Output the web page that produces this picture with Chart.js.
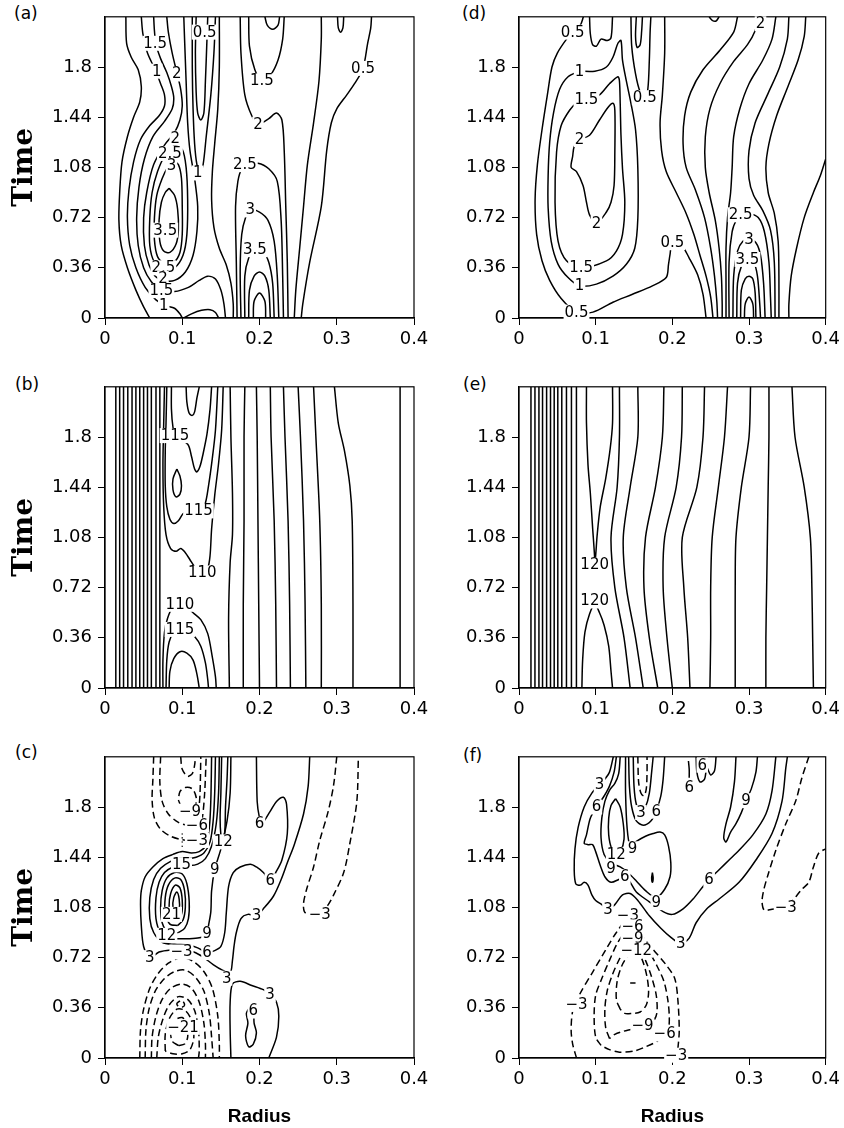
<!DOCTYPE html>
<html>
<head>
<meta charset="utf-8">
<script src="https://cdn.jsdelivr.net/npm/chart.js@4.4.1/dist/chart.umd.min.js"></script>
<style>
  body { margin: 0; background: #fff; width: 844px; height: 1128px; position: relative; overflow: hidden; }
  canvas { position: absolute; }
  .tag { position: absolute; font: 17px/17px 'DejaVu Sans', sans-serif; color: #000; }
</style>
</head>
<body>
<div class="tag" style="left:14px;top:5px">(a)</div>
<div class="tag" style="left:15px;top:376px">(b)</div>
<div class="tag" style="left:15px;top:744px">(c)</div>
<div class="tag" style="left:462px;top:5px">(d)</div>
<div class="tag" style="left:463px;top:376px">(e)</div>
<div class="tag" style="left:463px;top:747px">(f)</div>
<canvas id="pa" width="434" height="360" style="left:0;top:0"></canvas>
<canvas id="pb" width="434" height="360" style="left:0;top:370px"></canvas>
<canvas id="pc" width="434" height="388" style="left:0;top:740px"></canvas>
<canvas id="pd" width="424" height="360" style="left:420px;top:0"></canvas>
<canvas id="pe" width="424" height="360" style="left:420px;top:370px"></canvas>
<canvas id="pf" width="424" height="388" style="left:420px;top:740px"></canvas>
<script>
// axes
const xTicks = [0, 0.1, 0.2, 0.3, 0.4];
const yTicks = [0, 0.36, 0.72, 1.08, 1.44, 1.8];
const yTop = 2.16;

// (a) contour lines, [radius, time]
const aLines = [
  [[0.027,2.16],[0.028,1.97],[0.034,1.87],[0.043,1.78],[0.047,1.66],[0.045,1.55],[0.037,1.44],[0.029,1.3],[0.022,1.12],[0.019,0.9],[0.018,0.7],[0.021,0.52],[0.029,0.36],[0.04,0.2],[0.05,0.08],[0.058,0]],
  [[0.047,2.16],[0.049,2.04],[0.055,1.9],[0.065,1.78],[0.072,1.68],[0.077,1.6],[0.077,1.52],[0.07,1.45],[0.058,1.38],[0.046,1.28],[0.037,1.12],[0.031,0.92],[0.029,0.72],[0.032,0.52],[0.04,0.36],[0.052,0.22],[0.066,0.13],[0.078,0.09],[0.09,0.07],[0.097,0.03],[0.1,0]],
  [[0.063,2.16],[0.064,2.06],[0.066,1.96],[0.072,1.86],[0.08,1.76],[0.086,1.66],[0.089,1.58],[0.087,1.5],[0.077,1.41],[0.062,1.3],[0.051,1.14],[0.044,0.94],[0.041,0.72],[0.043,0.52],[0.05,0.36],[0.06,0.26],[0.073,0.2],[0.09,0.19],[0.108,0.22],[0.122,0.27],[0.133,0.3],[0.143,0.28],[0.15,0.2],[0.154,0.1],[0.156,0]],
  [[0.08,2.16],[0.082,2.05],[0.087,1.9],[0.093,1.76],[0.098,1.64],[0.1,1.52],[0.097,1.42],[0.09,1.33],[0.077,1.24],[0.063,1.1],[0.054,0.9],[0.05,0.72],[0.051,0.52],[0.057,0.38],[0.065,0.3],[0.075,0.27],[0.09,0.27],[0.104,0.33],[0.114,0.45],[0.119,0.62],[0.12,0.8],[0.116,1.0],[0.11,1.2],[0.107,1.4],[0.105,1.7],[0.103,2.0],[0.102,2.16]],
  [[0.09,1.24],[0.1,1.21],[0.105,1.08],[0.107,0.85],[0.106,0.6],[0.101,0.45],[0.09,0.36],[0.076,0.35],[0.064,0.4],[0.058,0.52],[0.058,0.72],[0.061,0.9],[0.068,1.05],[0.078,1.17],[0.09,1.24]],
  [[0.088,1.13],[0.095,1.1],[0.099,1.0],[0.1,0.8],[0.1,0.6],[0.097,0.47],[0.089,0.4],[0.077,0.39],[0.068,0.44],[0.064,0.56],[0.064,0.72],[0.067,0.88],[0.074,1.0],[0.081,1.08],[0.088,1.13]],
  [[0.083,0.93],[0.09,0.88],[0.094,0.78],[0.095,0.63],[0.092,0.53],[0.084,0.47],[0.076,0.48],[0.071,0.55],[0.07,0.7],[0.073,0.83],[0.078,0.9],[0.083,0.93]],
  [[0.102,0],[0.112,0.03],[0.125,0.055],[0.136,0.06],[0.143,0.04],[0.147,0]],
  [[0.118,2.16],[0.117,1.9],[0.118,1.62],[0.12,1.47],[0.124,1.42],[0.128,1.47],[0.13,1.7],[0.132,2.0],[0.133,2.16]],
  [[0.113,2.16],[0.113,1.8],[0.114,1.5],[0.116,1.25],[0.119,1.1],[0.123,1.04],[0.127,1.1],[0.131,1.3],[0.137,1.6],[0.141,1.9],[0.143,2.16]],
  [[0.148,2.16],[0.148,1.8],[0.146,1.5],[0.142,1.25],[0.139,1.05],[0.138,0.85],[0.141,0.65],[0.148,0.5],[0.157,0.38],[0.163,0.25],[0.166,0.1],[0.166,0]],
  [[0.192,0],[0.193,0.12],[0.2,0.18],[0.207,0.12],[0.208,0]],
  [[0.186,0],[0.187,0.2],[0.193,0.3],[0.2,0.33],[0.207,0.3],[0.212,0.2],[0.214,0]],
  [[0.181,0],[0.181,0.3],[0.186,0.43],[0.194,0.49],[0.205,0.47],[0.212,0.4],[0.217,0.25],[0.219,0]],
  [[0.176,0],[0.175,0.35],[0.177,0.6],[0.182,0.72],[0.188,0.775],[0.2,0.76],[0.211,0.7],[0.219,0.55],[0.223,0.3],[0.225,0]],
  [[0.171,0],[0.17,0.4],[0.169,0.8],[0.172,0.98],[0.177,1.07],[0.184,1.1],[0.198,1.11],[0.212,1.07],[0.223,0.98],[0.228,0.7],[0.23,0.3],[0.231,0]],
  [[0.175,2.16],[0.176,1.9],[0.181,1.6],[0.19,1.45],[0.198,1.39],[0.212,1.43],[0.222,1.47],[0.229,1.42],[0.232,1.2],[0.234,0.8],[0.236,0.4],[0.237,0]],
  [[0.186,2.16],[0.187,1.95],[0.194,1.78],[0.203,1.7],[0.214,1.74],[0.224,1.85],[0.23,2.0],[0.232,2.16]],
  [[0.207,2.16],[0.21,2.1],[0.217,2.07],[0.224,2.1],[0.226,2.16]],
  [[0.301,2.16],[0.302,2.08],[0.305,2.05],[0.308,2.08],[0.309,2.16]],
  [[0.28,2.16],[0.28,2.0],[0.277,1.7],[0.27,1.4],[0.262,1.1],[0.257,0.8],[0.252,0.5],[0.247,0.2],[0.245,0]],
  [[0.345,2.16],[0.344,2.08],[0.34,1.97],[0.334,1.79],[0.323,1.68],[0.313,1.6],[0.3,1.5],[0.293,1.4],[0.287,1.2],[0.28,0.8],[0.265,0.4],[0.256,0.1],[0.254,0]]
];
const aLabels = [
  ['1.5',0.065,1.97],['1',0.067,1.77],['2',0.093,1.75],['0.5',0.129,2.05],['1.5',0.203,1.70],['0.5',0.334,1.79],
  ['2',0.198,1.39],['2',0.091,1.29],['2.5',0.084,1.18],['3',0.086,1.09],['1',0.12,1.04],['2.5',0.181,1.10],
  ['3',0.188,0.775],['3.5',0.078,0.63],['3.5',0.194,0.49],['2.5',0.0755,0.36],['2',0.075,0.286],['1.5',0.073,0.196],['1',0.076,0.09]
];

// (b)
const bVerticals = [0.014,0.019,0.024,0.0295,0.035,0.04,0.045,0.05,0.055,0.06,0.066,0.071];
const bLines = [
  [[0.077,2.16],[0.076,1.9],[0.075,1.6],[0.076,1.3],[0.079,1.1],[0.085,1.0],[0.092,0.98],[0.098,1.0],[0.104,0.97],[0.11,0.92],[0.116,0.87],[0.126,0.825],[0.133,0.86],[0.136,0.95],[0.138,1.14],[0.142,1.38],[0.147,1.61],[0.151,1.85],[0.153,2.16]],
  [[0.08,2.16],[0.079,1.9],[0.078,1.7],[0.078,1.45],[0.08,1.3],[0.084,1.21],[0.089,1.18],[0.095,1.2],[0.101,1.25],[0.108,1.27],[0.121,1.27],[0.129,1.31],[0.134,1.45],[0.139,1.65],[0.143,1.85],[0.146,2.16]],
  [[0.086,2.16],[0.086,2.0],[0.088,1.87],[0.091,1.81],[0.1,1.78],[0.108,1.74],[0.112,1.66],[0.116,1.57],[0.119,1.55],[0.123,1.59],[0.127,1.68],[0.132,1.82],[0.136,2.0],[0.138,2.16]],
  [[0.093,1.57],[0.097,1.52],[0.099,1.45],[0.097,1.39],[0.092,1.37],[0.088,1.42],[0.088,1.5],[0.093,1.57]],
  [[0.105,2.16],[0.106,2.05],[0.109,1.97],[0.113,1.955],[0.116,1.98],[0.119,2.08],[0.122,2.16]],
  [[0.075,0],[0.075,0.2],[0.077,0.4],[0.081,0.5],[0.088,0.58],[0.097,0.6],[0.106,0.58],[0.114,0.54],[0.124,0.49],[0.133,0.39],[0.139,0.22],[0.143,0.08],[0.144,0]],
  [[0.079,0],[0.08,0.2],[0.083,0.33],[0.089,0.4],[0.097,0.42],[0.106,0.41],[0.116,0.37],[0.124,0.3],[0.13,0.18],[0.133,0.06],[0.134,0]],
  [[0.083,0],[0.084,0.12],[0.089,0.21],[0.097,0.26],[0.106,0.25],[0.114,0.2],[0.119,0.1],[0.122,0]],
  [[0.161,0],[0.16,0.5],[0.162,0.9],[0.165,1.1],[0.165,1.4],[0.163,1.8],[0.162,2.16]],
  [[0.179,0],[0.179,0.6],[0.18,1.2],[0.18,1.8],[0.181,2.16]],
  [[0.2,0],[0.199,0.6],[0.198,1.2],[0.197,1.8],[0.196,2.16]],
  [[0.222,0],[0.221,0.6],[0.219,1.2],[0.215,1.8],[0.214,2.16]],
  [[0.24,0],[0.239,0.6],[0.237,1.2],[0.233,1.8],[0.231,2.16]],
  [[0.26,0],[0.259,0.6],[0.257,1.2],[0.253,1.8],[0.25,2.16]],
  [[0.28,0],[0.28,0.6],[0.278,1.2],[0.273,1.8],[0.27,2.16]],
  [[0.321,0],[0.321,0.6],[0.32,1.2],[0.317,1.45],[0.31,1.7],[0.302,1.9],[0.297,2.16]],
  [[0.382,0],[0.382,2.16]]
];
const bLabels = [['115',0.0906,1.81],['115',0.121,1.27],['110',0.126,0.825],['110',0.097,0.6],['115',0.097,0.42]];

// (c)
const cSolid = [
  [[0.265,2.16],[0.263,1.95],[0.257,1.75],[0.245,1.53],[0.236,1.4],[0.228,1.28],[0.218,1.16],[0.205,1.07],[0.196,1.02],[0.185,1.03],[0.176,1.0],[0.17,0.9],[0.167,0.8],[0.165,0.7],[0.162,0.61],[0.152,0.63],[0.14,0.67],[0.128,0.72],[0.115,0.76],[0.1,0.775],[0.085,0.775],[0.07,0.76],[0.058,0.72],[0.05,0.8],[0.047,0.95],[0.046,1.1],[0.047,1.2],[0.052,1.3],[0.062,1.37],[0.075,1.43],[0.088,1.46],[0.1,1.48],[0.112,1.47],[0.122,1.48],[0.13,1.52],[0.135,1.65],[0.137,1.85],[0.138,2.16]],
  [[0.196,2.16],[0.197,1.84],[0.2,1.72],[0.203,1.68],[0.214,1.77],[0.222,1.84],[0.231,1.87],[0.235,1.82],[0.236,1.61],[0.229,1.42],[0.221,1.33],[0.214,1.27],[0.205,1.33],[0.196,1.37],[0.188,1.39],[0.175,1.37],[0.166,1.33],[0.16,1.23],[0.157,1.04],[0.155,0.9],[0.15,0.8],[0.142,0.77],[0.132,0.756],[0.12,0.79],[0.108,0.81],[0.09,0.815],[0.074,0.83],[0.063,0.9],[0.058,1.0],[0.058,1.15],[0.063,1.28],[0.072,1.36],[0.085,1.41],[0.097,1.43],[0.108,1.43],[0.118,1.44],[0.128,1.47],[0.136,1.55],[0.14,1.7],[0.142,1.9],[0.143,2.16]],
  [[0.163,2.16],[0.162,1.9],[0.158,1.7],[0.15,1.5],[0.142,1.35],[0.138,1.2],[0.137,1.05],[0.134,0.95],[0.132,0.89],[0.12,0.86],[0.1,0.855],[0.085,0.86],[0.072,0.9],[0.066,1.0],[0.066,1.15],[0.07,1.26],[0.077,1.33],[0.088,1.37],[0.1,1.385],[0.11,1.38],[0.12,1.39],[0.13,1.43],[0.138,1.52],[0.144,1.68],[0.147,1.9],[0.148,2.16]],
  [[0.151,2.16],[0.15,1.9],[0.149,1.72],[0.15,1.6],[0.152,1.56],[0.155,1.62],[0.156,1.8],[0.158,2.0],[0.159,2.16]],
  [[0.095,0.9],[0.082,0.9],[0.074,0.97],[0.072,1.08],[0.074,1.2],[0.08,1.29],[0.09,1.33],[0.1,1.32],[0.106,1.25],[0.109,1.12],[0.108,1.0],[0.103,0.93],[0.095,0.9]],
  [[0.094,0.95],[0.084,0.96],[0.078,1.04],[0.078,1.15],[0.082,1.24],[0.09,1.29],[0.098,1.28],[0.103,1.2],[0.104,1.08],[0.101,0.99],[0.094,0.95]],
  [[0.093,0.99],[0.086,1.01],[0.083,1.09],[0.085,1.18],[0.091,1.24],[0.097,1.22],[0.1,1.13],[0.099,1.03],[0.093,0.99]],
  [[0.092,1.04],[0.088,1.08],[0.089,1.15],[0.093,1.19],[0.096,1.14],[0.096,1.07],[0.092,1.04]],
  [[0.163,0],[0.162,0.2],[0.162,0.4],[0.165,0.53],[0.175,0.55],[0.19,0.52],[0.205,0.49],[0.214,0.455],[0.222,0.4],[0.225,0.3],[0.222,0.15],[0.212,0]],
  [[0.187,0.36],[0.192,0.34],[0.193,0.25],[0.196,0.18],[0.192,0.1],[0.186,0.08],[0.182,0.16],[0.185,0.25],[0.183,0.32],[0.187,0.36]]
];
const cDashed = [
  [[0.063,2.16],[0.062,2.0],[0.061,1.85],[0.064,1.72],[0.072,1.64],[0.085,1.59],[0.1,1.565],[0.113,1.56],[0.121,1.6],[0.126,1.72],[0.129,1.9],[0.131,2.16]],
  [[0.072,2.16],[0.071,1.98],[0.074,1.84],[0.082,1.75],[0.095,1.69],[0.108,1.67],[0.117,1.69],[0.121,1.77],[0.123,1.9],[0.124,2.16]],
  [[0.095,1.85],[0.1,1.79],[0.11,1.77],[0.117,1.81],[0.118,1.87],[0.113,1.93],[0.104,1.94],[0.097,1.91],[0.095,1.85]],
  [[0.098,2.16],[0.1,2.07],[0.107,2.02],[0.113,2.04],[0.116,2.1],[0.117,2.16]],
  [[0.045,0],[0.046,0.2],[0.05,0.35],[0.058,0.5],[0.068,0.6],[0.082,0.68],[0.099,0.72],[0.115,0.69],[0.128,0.62],[0.139,0.5],[0.146,0.3],[0.148,0.1],[0.148,0]],
  [[0.052,0],[0.053,0.2],[0.057,0.35],[0.065,0.48],[0.077,0.57],[0.09,0.62],[0.104,0.63],[0.117,0.58],[0.128,0.48],[0.135,0.32],[0.138,0.15],[0.14,0]],
  [[0.06,0],[0.061,0.15],[0.066,0.3],[0.074,0.42],[0.085,0.5],[0.1,0.53],[0.112,0.5],[0.122,0.4],[0.128,0.25],[0.13,0.1],[0.13,0]],
  [[0.067,0],[0.069,0.15],[0.075,0.28],[0.083,0.38],[0.095,0.44],[0.107,0.42],[0.116,0.34],[0.121,0.2],[0.122,0.05],[0.121,0]],
  [[0.078,0.05],[0.078,0.17],[0.083,0.28],[0.093,0.35],[0.104,0.34],[0.112,0.27],[0.115,0.15],[0.11,0.06],[0.1,0.03],[0.088,0.03],[0.078,0.05]],
  [[0.095,0.09],[0.087,0.12],[0.085,0.2],[0.09,0.27],[0.1,0.29],[0.106,0.24],[0.107,0.15],[0.103,0.1],[0.095,0.09]],
  [[0.097,0.41],[0.093,0.39],[0.095,0.37],[0.1,0.365],[0.103,0.38],[0.101,0.405],[0.097,0.41]],
  [[0.3,2.16],[0.296,1.96],[0.289,1.77],[0.278,1.56],[0.27,1.37],[0.261,1.21],[0.257,1.11],[0.258,1.05],[0.263,1.03],[0.278,1.03],[0.289,1.1],[0.296,1.17],[0.309,1.33],[0.317,1.54],[0.326,1.84],[0.328,2.16]]
];
const cDotted = [[[0.1,1.61],[0.1,1.5]]];
const cLabels = [
  ['−9',0.11,1.77],['−6',0.119,1.67],['−3',0.119,1.56],['12',0.153,1.55],['6',0.2,1.68],['9',0.142,1.35],['15',0.099,1.385],
  ['6',0.214,1.27],['21',0.086,1.03],['3',0.196,1.02],['9',0.132,0.89],['12',0.08,0.88],['3',0.058,0.72],['−3',0.099,0.76],
  ['6',0.132,0.756],['3',0.1575,0.572],['3',0.2136,0.455],['6',0.192,0.337],['−21',0.101,0.22],['−3',0.278,1.03]
];

// (d)
const dLines = [
  [[0.084,2.16],[0.08,2.1],[0.07,2.05],[0.062,2.0],[0.05,1.9],[0.043,1.8],[0.037,1.6],[0.03,1.35],[0.024,1.1],[0.021,0.85],[0.023,0.6],[0.03,0.41],[0.04,0.27],[0.055,0.14],[0.075,0.042],[0.0965,0.042],[0.1225,0.113],[0.148,0.17],[0.174,0.23],[0.192,0.29],[0.195,0.385],[0.197,0.456],[0.2,0.54],[0.211,0.53],[0.222,0.43],[0.233,0.31],[0.24,0.17],[0.244,0]],
  [[0.092,2.16],[0.093,2.04],[0.096,1.96],[0.101,1.95],[0.107,2.0],[0.115,1.99],[0.12,2.01],[0.122,2.16]],
  [[0.079,1.77],[0.064,1.73],[0.053,1.64],[0.045,1.47],[0.04,1.26],[0.038,1.02],[0.038,0.79],[0.042,0.55],[0.051,0.385],[0.064,0.29],[0.079,0.23],[0.101,0.243],[0.1225,0.3],[0.14,0.385],[0.151,0.5],[0.155,0.715],[0.155,1.07],[0.152,1.35],[0.146,1.54],[0.14,1.7],[0.135,1.85],[0.133,1.99],[0.129,1.97],[0.1225,1.87],[0.114,1.8],[0.099,1.77],[0.079,1.77]],
  [[0.088,1.565],[0.105,1.6],[0.118,1.68],[0.129,1.73],[0.131,1.7],[0.132,1.54],[0.133,1.31],[0.135,1.07],[0.138,0.83],[0.135,0.6],[0.127,0.48],[0.114,0.41],[0.081,0.36],[0.062,0.41],[0.051,0.55],[0.047,0.83],[0.049,1.19],[0.055,1.38],[0.066,1.49],[0.075,1.54],[0.088,1.565]],
  [[0.079,1.28],[0.092,1.31],[0.105,1.42],[0.116,1.51],[0.1225,1.54],[0.125,1.49],[0.125,1.19],[0.124,0.95],[0.12,0.83],[0.114,0.76],[0.101,0.68],[0.092,0.74],[0.088,0.83],[0.0835,0.95],[0.075,1.05],[0.068,1.08],[0.07,1.16],[0.072,1.23],[0.079,1.28]],
  [[0.146,2.16],[0.147,1.95],[0.152,1.75],[0.158,1.62],[0.164,1.58],[0.168,1.64],[0.17,1.85],[0.171,2.05],[0.172,2.16]],
  [[0.153,2.16],[0.152,2.02],[0.154,1.94],[0.158,1.96],[0.16,2.06],[0.161,2.16]],
  [[0.19,2.16],[0.19,1.9],[0.187,1.6],[0.184,1.4],[0.186,1.2],[0.192,1.05],[0.205,0.9],[0.218,0.75],[0.228,0.6],[0.236,0.45],[0.244,0.3],[0.25,0.15],[0.253,0]],
  [[0.285,2.16],[0.28,2.05],[0.262,1.92],[0.24,1.78],[0.224,1.62],[0.216,1.45],[0.214,1.25],[0.218,1.08],[0.23,0.92],[0.242,0.72],[0.25,0.5],[0.255,0.3],[0.258,0.12],[0.259,0]],
  [[0.312,2.16],[0.308,2.06],[0.298,1.96],[0.28,1.84],[0.262,1.68],[0.249,1.5],[0.243,1.3],[0.243,1.08],[0.248,0.9],[0.256,0.7],[0.261,0.5],[0.264,0.3],[0.265,0.1],[0.265,0]],
  [[0.335,2.16],[0.33,2.0],[0.318,1.85],[0.3,1.68],[0.288,1.5],[0.28,1.3],[0.278,1.08],[0.276,0.9],[0.272,0.72],[0.27,0.5],[0.27,0.25],[0.27,0]],
  [[0.352,2.16],[0.35,2.0],[0.34,1.8],[0.324,1.6],[0.308,1.4],[0.3,1.2],[0.3,1.0],[0.306,0.88],[0.318,0.77],[0.328,0.63],[0.333,0.4],[0.334,0]],
  [[0.374,2.16],[0.372,2.02],[0.364,1.85],[0.35,1.65],[0.336,1.45],[0.326,1.25],[0.322,1.08],[0.325,0.9],[0.333,0.75],[0.338,0.55],[0.339,0.3],[0.339,0]],
  [[0.4,1.14],[0.393,1.02],[0.384,0.9],[0.372,0.72],[0.362,0.5],[0.355,0.3],[0.352,0.1],[0.352,0]],
  [[0.274,0],[0.274,0.4],[0.278,0.62],[0.284,0.71],[0.289,0.74],[0.3,0.75],[0.312,0.72],[0.32,0.62],[0.326,0.4],[0.328,0.15],[0.329,0]],
  [[0.279,0],[0.28,0.3],[0.285,0.48],[0.292,0.55],[0.3,0.565],[0.309,0.54],[0.315,0.45],[0.319,0.25],[0.321,0]],
  [[0.284,0],[0.285,0.25],[0.29,0.37],[0.298,0.42],[0.306,0.4],[0.311,0.3],[0.314,0.1],[0.315,0]],
  [[0.289,0],[0.29,0.2],[0.295,0.28],[0.3,0.3],[0.305,0.28],[0.308,0.18],[0.309,0]],
  [[0.294,0],[0.295,0.1],[0.3,0.15],[0.305,0.1],[0.306,0]],
  [[0.248,2.16],[0.252,2.135],[0.257,2.13],[0.261,2.16]]
];
const dLabels = [
  ['0.5',0.07,2.05],['1',0.079,1.77],['1.5',0.088,1.565],['2',0.079,1.28],['2',0.101,0.68],['0.5',0.164,1.58],['1.5',0.081,0.36],
  ['1',0.079,0.23],['0.5',0.075,0.042],['0.5',0.2,0.54],['2.5',0.289,0.74],['3',0.3,0.565],['3.5',0.298,0.42],['2',0.315,2.11]
];

// (e)
const eVerticals = [0.0156,0.0208,0.026,0.0307,0.036,0.0411,0.0459,0.0506,0.0558,0.0619,0.0684,0.0749];
const eLines = [
  [[0.088,2.16],[0.088,1.9],[0.09,1.6],[0.093,1.4],[0.096,1.15],[0.0985,0.95],[0.0987,0.883],[0.1,0.95],[0.102,1.1],[0.106,1.3],[0.113,1.5],[0.119,1.72],[0.122,1.9],[0.122,2.16]],
  [[0.082,0],[0.083,0.2],[0.086,0.4],[0.092,0.53],[0.0987,0.6],[0.105,0.54],[0.111,0.45],[0.117,0.3],[0.12,0.12],[0.122,0]],
  [[0.131,2.16],[0.131,1.8],[0.128,1.44],[0.12,1.08],[0.125,0.72],[0.137,0.36],[0.145,0]],
  [[0.155,2.16],[0.155,1.8],[0.145,1.44],[0.136,1.08],[0.14,0.72],[0.152,0.36],[0.162,0]],
  [[0.189,2.16],[0.187,1.8],[0.178,1.44],[0.165,1.08],[0.163,0.72],[0.17,0.36],[0.181,0]],
  [[0.213,2.16],[0.212,1.8],[0.205,1.44],[0.19,1.08],[0.188,0.72],[0.193,0.36],[0.2,0]],
  [[0.242,2.16],[0.24,1.8],[0.232,1.44],[0.213,1.08],[0.215,0.72],[0.22,0.36],[0.223,0]],
  [[0.272,2.16],[0.268,1.8],[0.26,1.44],[0.252,1.08],[0.25,0.72],[0.25,0.36],[0.249,0]],
  [[0.302,2.16],[0.3,1.8],[0.29,1.44],[0.283,1.08],[0.282,0.72],[0.282,0.36],[0.282,0]],
  [[0.326,2.16],[0.326,1.8],[0.325,1.44],[0.324,1.08],[0.323,0.72],[0.322,0.36],[0.322,0]],
  [[0.356,2.16],[0.36,1.8],[0.372,1.44],[0.38,1.08],[0.382,0.72],[0.383,0.36],[0.384,0]]
];
const eLabels = [['120',0.0987,0.883],['120',0.0987,0.624]];

// (f)
const fSolid = [
  [[0.123,2.16],[0.118,2.05],[0.112,2.0],[0.105,1.96],[0.095,1.9],[0.085,1.8],[0.077,1.65],[0.073,1.5],[0.072,1.35],[0.074,1.25],[0.08,1.24],[0.085,1.26],[0.09,1.24],[0.095,1.17],[0.1,1.13],[0.108,1.1],[0.116,1.067],[0.125,1.1],[0.135,1.17],[0.145,1.18],[0.155,1.13],[0.17,1.02],[0.185,0.93],[0.197,0.87],[0.211,0.82],[0.222,0.86],[0.231,0.97],[0.245,1.07],[0.261,1.14],[0.287,1.26],[0.309,1.42],[0.33,1.61],[0.343,1.84],[0.348,2.08],[0.35,2.16]],
  [[0.127,2.16],[0.124,2.05],[0.118,1.95],[0.11,1.87],[0.101,1.8],[0.093,1.72],[0.088,1.6],[0.085,1.54],[0.09,1.53],[0.096,1.53],[0.1,1.48],[0.106,1.38],[0.112,1.3],[0.12,1.26],[0.13,1.28],[0.138,1.3],[0.145,1.26],[0.153,1.19],[0.17,1.12],[0.188,1.05],[0.2,1.03],[0.214,1.07],[0.227,1.14],[0.24,1.23],[0.248,1.28],[0.261,1.35],[0.274,1.42],[0.287,1.49],[0.305,1.6],[0.322,1.75],[0.33,1.915],[0.335,2.16]],
  [[0.132,2.16],[0.13,2.04],[0.125,1.97],[0.118,1.92],[0.112,1.84],[0.108,1.72],[0.107,1.58],[0.111,1.46],[0.12,1.4],[0.132,1.37],[0.142,1.33],[0.153,1.27],[0.165,1.2],[0.179,1.15],[0.19,1.21],[0.197,1.3],[0.198,1.4],[0.195,1.52],[0.19,1.6],[0.184,1.62],[0.175,1.61],[0.165,1.59],[0.152,1.55],[0.145,1.52],[0.141,1.65],[0.139,1.9],[0.139,2.16]],
  [[0.126,1.86],[0.132,1.8],[0.136,1.68],[0.137,1.57],[0.133,1.49],[0.127,1.47],[0.121,1.5],[0.117,1.6],[0.117,1.72],[0.12,1.81],[0.126,1.86]],
  [[0.143,2.16],[0.144,1.95],[0.147,1.8],[0.153,1.7],[0.162,1.67],[0.172,1.7],[0.179,1.77],[0.185,1.88],[0.188,2.0],[0.19,2.16]],
  [[0.149,2.16],[0.15,1.95],[0.153,1.82],[0.159,1.76],[0.165,1.8],[0.17,1.9],[0.173,2.05],[0.175,2.16]],
  [[0.283,2.16],[0.281,1.98],[0.276,1.8],[0.27,1.68],[0.267,1.58],[0.27,1.55],[0.276,1.62],[0.283,1.68],[0.29,1.76],[0.296,1.845],[0.303,1.93],[0.309,2.05],[0.311,2.16]],
  [[0.221,2.13],[0.222,2.07],[0.222,2.01]],
  [[0.231,2.16],[0.232,2.05],[0.236,1.98],[0.242,2.0],[0.245,2.08],[0.25,2.03],[0.255,2.06],[0.257,2.16]],
  [[0.174,1.33],[0.175,1.29],[0.174,1.26],[0.173,1.29],[0.174,1.33]]
];
const fDashed = [
  [[0.075,0],[0.07,0.1],[0.068,0.2],[0.07,0.337],[0.075,0.384],[0.079,0.455],[0.0965,0.62],[0.114,0.784],[0.127,0.9],[0.142,1.0],[0.15,0.98],[0.157,0.9],[0.174,0.784],[0.192,0.667],[0.203,0.572],[0.207,0.43],[0.209,0.196],[0.207,0.054],[0.206,0]],
  [[0.107,0.09],[0.1,0.15],[0.098,0.3],[0.1,0.45],[0.108,0.57],[0.118,0.7],[0.128,0.82],[0.138,0.9],[0.148,0.94],[0.158,0.87],[0.17,0.76],[0.18,0.66],[0.189,0.55],[0.194,0.42],[0.196,0.3],[0.195,0.21],[0.19,0.172],[0.18,0.12],[0.165,0.08],[0.15,0.05],[0.131,0.042],[0.118,0.06],[0.107,0.09]],
  [[0.118,0.14],[0.113,0.22],[0.112,0.35],[0.115,0.48],[0.122,0.6],[0.131,0.71],[0.14,0.8],[0.148,0.855],[0.156,0.8],[0.165,0.7],[0.173,0.58],[0.179,0.45],[0.18,0.33],[0.176,0.27],[0.168,0.24],[0.161,0.23],[0.15,0.21],[0.135,0.19],[0.125,0.17],[0.118,0.14]],
  [[0.132,0.35],[0.127,0.42],[0.128,0.55],[0.134,0.66],[0.142,0.73],[0.153,0.773],[0.161,0.7],[0.167,0.58],[0.169,0.47],[0.166,0.38],[0.158,0.33],[0.147,0.32],[0.138,0.32],[0.132,0.35]],
  [[0.145,0.537],[0.152,0.537]],
  [[0.378,2.16],[0.369,2.01],[0.361,1.845],[0.348,1.68],[0.335,1.49],[0.324,1.3],[0.319,1.2],[0.317,1.12],[0.32,1.06],[0.33,1.067],[0.348,1.08],[0.369,1.21],[0.378,1.26],[0.384,1.37],[0.391,1.47],[0.4,1.5]],
  [[0.155,2.16],[0.156,1.98],[0.159,1.9],[0.163,1.88],[0.166,1.93],[0.167,2.05],[0.167,2.16]]
];
const fLabels = [
  ['3',0.105,1.96],['6',0.101,1.8],['3',0.159,1.76],['6',0.179,1.77],['6',0.222,1.94],['6',0.239,2.1],['9',0.296,1.845],
  ['12',0.127,1.46],['9',0.148,1.5],['9',0.12,1.36],['6',0.138,1.3],['6',0.248,1.28],['9',0.179,1.114],['3',0.116,1.067],
  ['−3',0.142,1.02],['−6',0.148,0.94],['−9',0.148,0.855],['−12',0.153,0.773],['3',0.211,0.82],['−3',0.348,1.08],
  ['−3',0.075,0.384],['−9',0.161,0.23],['−6',0.19,0.172],['−3',0.205,0.02]
];

function verticalLines(xs) {
  return xs.map(x => [[x, 0], [x, yTop]]);
}

function lineSet(line, dash) {
  return {
    data: line.map(p => ({ x: p[0], y: p[1] })),
    showLine: true,
    borderColor: '#000',
    borderWidth: 1.5,
    borderDash: dash,
    pointRadius: 0,
    pointHoverRadius: 0,
    tension: 0.3,
    fill: false
  };
}

function fmt(v) {
  return String(parseFloat(v.toFixed(2)));
}

// box round the plot and the inline contour labels
function panelPlugin(labels) {
  return {
    id: 'panelExtras',
    afterDatasetsDraw(chart) {
      const ctx = chart.ctx;
      const area = chart.chartArea;
      const xs = chart.scales.x, ys = chart.scales.y;
      ctx.save();
      ctx.strokeStyle = '#000';
      ctx.lineWidth = 1.2;
      ctx.strokeRect(area.left, area.top, area.right - area.left, area.bottom - area.top);
      ctx.font = '15px "DejaVu Sans"';
      ctx.textAlign = 'center';
      ctx.textBaseline = 'middle';
      labels.forEach(([text, x, y]) => {
        const px = xs.getPixelForValue(x);
        const py = ys.getPixelForValue(y);
        const w = ctx.measureText(text).width;
        ctx.fillStyle = '#fff';
        ctx.fillRect(px - w / 2 - 1, py - 7.5, w + 2, 15);
        ctx.fillStyle = '#000';
        ctx.fillText(text, px, py + 0.5);
      });
      ctx.restore();
    }
  };
}

function makePanel(id, opts) {
  const datasets = [];
  opts.solid.forEach(l => datasets.push(lineSet(l, [])));
  (opts.dashed || []).forEach(l => datasets.push(lineSet(l, [7, 4])));
  (opts.dotted || []).forEach(l => datasets.push(lineSet(l, [1, 3])));

  new Chart(document.getElementById(id), {
    type: 'scatter',
    data: { datasets: datasets },
    options: {
      responsive: false,
      animation: false,
      devicePixelRatio: 1,
      events: [],
      layout: { padding: { left: 0, right: opts.padRight, top: 13, bottom: 0 } },
      scales: {
        x: {
          type: 'linear',
          min: 0,
          max: 0.4,
          afterBuildTicks: axis => { axis.ticks = xTicks.map(v => ({ value: v })); },
          afterFit: scale => { scale.height = opts.xHeight; },
          ticks: {
            callback: v => fmt(v),
            color: '#000',
            font: { family: 'DejaVu Sans', size: 18 },
            padding: 4,
            maxRotation: 0,
            autoSkip: false
          },
          grid: { display: true, drawOnChartArea: false, drawTicks: true, tickLength: 7, color: '#000' },
          border: { display: true, color: '#000', width: 1.2 },
          title: {
            display: opts.radius,
            text: 'Radius',
            color: '#000',
            font: { family: 'Liberation Sans', size: 19, weight: 'bold' },
            padding: { top: 4, bottom: 0 }
          }
        },
        y: {
          type: 'linear',
          min: 0,
          max: yTop,
          afterBuildTicks: axis => { axis.ticks = yTicks.map(v => ({ value: v })); },
          afterFit: scale => { scale.width = opts.axisWidth; },
          ticks: {
            callback: v => fmt(v),
            color: '#000',
            font: { family: 'DejaVu Sans', size: 18 },
            padding: 6,
            autoSkip: false
          },
          grid: { display: true, drawOnChartArea: false, drawTicks: true, tickLength: 7, color: '#000' },
          border: { display: true, color: '#000', width: 1.2 },
          title: {
            display: opts.time,
            text: 'Time',
            color: '#000',
            font: { family: 'DejaVu Serif', size: 28, weight: 'bold' },
            padding: { top: 8, bottom: 0 }
          }
        }
      },
      plugins: {
        legend: { display: false },
        tooltip: { enabled: false }
      }
    },
    plugins: [panelPlugin(opts.labels)]
  });
}

makePanel('pa', { solid: aLines, labels: aLabels, padRight: 20, axisWidth: 105, xHeight: 42, time: true, radius: false });
makePanel('pb', { solid: verticalLines(bVerticals).concat(bLines), labels: bLabels, padRight: 20, axisWidth: 105, xHeight: 42, time: true, radius: false });
makePanel('pc', { solid: cSolid, dashed: cDashed, dotted: cDotted, labels: cLabels, padRight: 20, axisWidth: 105, xHeight: 70, time: true, radius: true });
makePanel('pd', { solid: dLines, labels: dLabels, padRight: 17, axisWidth: 99, xHeight: 42, time: false, radius: false });
makePanel('pe', { solid: verticalLines(eVerticals).concat(eLines), labels: eLabels, padRight: 17, axisWidth: 99, xHeight: 42, time: false, radius: false });
makePanel('pf', { solid: fSolid, dashed: fDashed, labels: fLabels, padRight: 17, axisWidth: 99, xHeight: 70, time: false, radius: true });
</script>
</body>
</html>
